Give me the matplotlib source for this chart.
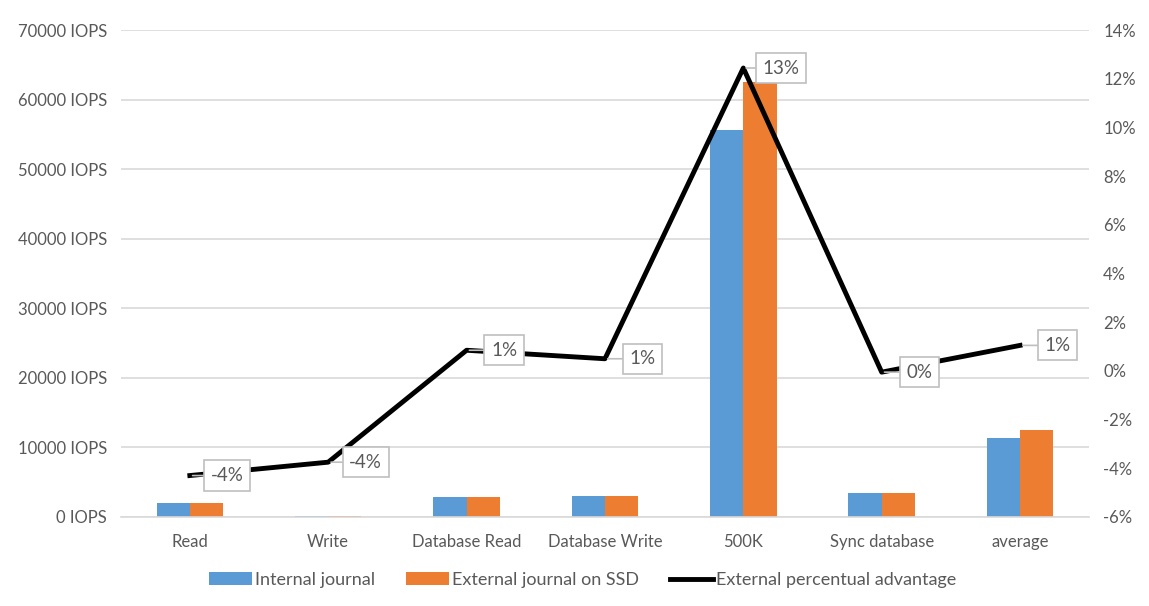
import numpy as np
import matplotlib.pyplot as plt

categories = ["Read", "Write", "Database Read", "Database Write", "500K", "Sync database", "average"]
internal = [2000, 200, 2800, 3050, 55600, 3400, 11350]
external = [1950, 200, 2800, 3050, 62600, 3400, 12500]
advantage = [-4.3, -3.75, 0.85, 0.5, 12.45, -0.05, 1.05]
adv_labels = ["-4%", "-4%", "1%", "1%", "13%", "0%", "1%"]

blue = "#5b9bd5"
orange = "#ed7d31"
txt = "#595959"
grid = "#d9d9d9"

plt.rcParams['font.family'] = ['Lato', 'DejaVu Sans']

fig = plt.figure(figsize=(11.49, 6.06), dpi=100)
ax = fig.add_axes([0.105, 0.147, 0.843, 0.803])
ax2 = ax.twinx()

x = np.arange(len(categories))
w = 0.24
ax.bar(x - w / 2, internal, w, color=blue, label="Internal journal", zorder=2)
ax.bar(x + w / 2, external, w, color=orange, label="External journal on SSD", zorder=2)

ax.set_xlim(-0.5, len(categories) - 0.5)
ax.set_ylim(0, 70000)
ax.set_yticks(np.arange(0, 70001, 10000))
ax.set_yticklabels([f"{v} IOPS" for v in range(0, 70001, 10000)])
ax.set_xticks(x)
ax.set_xticklabels(categories)
ax.yaxis.grid(True, color=grid, linewidth=1.2, zorder=0)
ax.set_axisbelow(True)

ax2.plot(x, advantage, color="black", linewidth=3.5, label="External percentual advantage", zorder=3)
ax2.set_ylim(-6, 14)
ax2.set_yticks(np.arange(-6, 15, 2))
ax2.set_yticklabels([f"{v}%" for v in range(-6, 15, 2)])

for xi, yi, lab in zip(x, advantage, adv_labels):
    ax2.annotate(lab, (xi, yi), xytext=(27, 0), textcoords="offset points",
                 ha="center", va="center", fontsize=13.5, color=txt,
                 bbox=dict(boxstyle="square,pad=0.35", fc="white", ec="#bfbfbf", lw=1.2),
                 arrowprops=dict(arrowstyle="-", color="#bfbfbf", lw=1.2, shrinkA=0, shrinkB=2),
                 zorder=5)

for a in (ax, ax2):
    for s in a.spines.values():
        s.set_visible(False)
    a.tick_params(length=0, labelsize=12, colors=txt, pad=10)
ax.spines['bottom'].set_visible(True)
ax.spines['bottom'].set_color(grid)
ax.spines['bottom'].set_linewidth(1.2)
ax.tick_params(axis='x', pad=12)

h1, l1 = ax.get_legend_handles_labels()
h2, l2 = ax2.get_legend_handles_labels()
fig.legend(h1 + h2, l1 + l2, loc="lower center", bbox_to_anchor=(0.507, 0.003), ncol=3,
           frameon=False, fontsize=13, labelcolor=txt, handlelength=2.4,
           handleheight=0.7, handletextpad=0.15, columnspacing=1.7)

fig.savefig("out.png", dpi=100)
